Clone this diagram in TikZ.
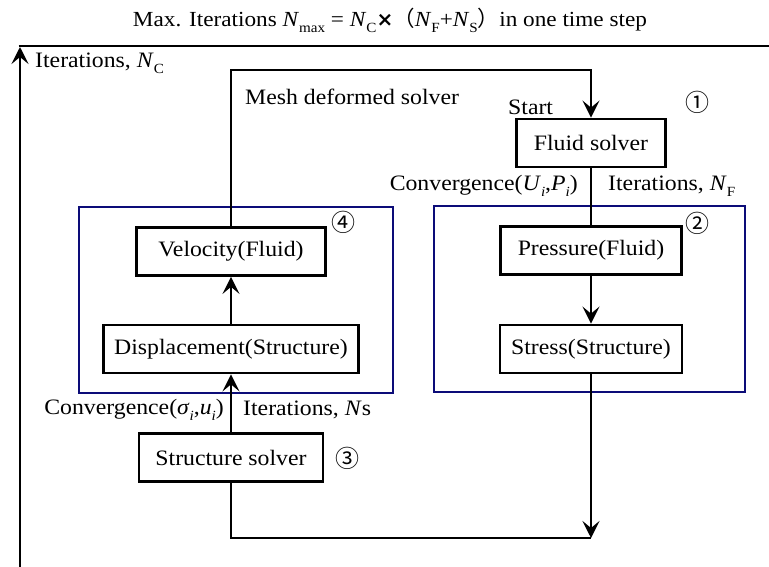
\documentclass[tikz,border=0pt]{standalone}
\usepackage{fontspec}
\setmainfont{Liberation Serif}[FakeStretch=1.08]
\newfontfamily\cjkfont{Noto Sans CJK SC}
\newfontfamily\symfont{DejaVu Sans}
\usetikzlibrary{arrows.meta}
\definecolor{navyframe}{RGB}{12,12,120}
% lowered small index text
\newcommand{\idx}[1]{\raisebox{-0.28em}{\fontsize{14}{14}\selectfont #1}}
\tikzset{
  txt/.style={font=\fontsize{22}{26}\selectfont, inner sep=0pt},
  box/.style={txt, draw, line width=2.8pt, minimum height=48pt},
  frame/.style={draw=navyframe, line width=2.4pt, inner sep=0pt},
  conn/.style={line width=2.8pt},
  arr/.style={-{Stealth[length=17pt,width=17pt,inset=7pt]}},
  num/.style={font=\cjkfont\fontsize{24}{24}\selectfont, inner sep=0pt},
}
\begin{document}
\begin{tikzpicture}[x=1pt,y=-1pt]
\useasboundingbox (0,0) rectangle (769,567);

% title
\node[txt, font=\fontsize{21.5}{24}\selectfont] (title) at (390,20)
  {Max. Iterations \textit{N}\idx{max} = \textit{N}\idx{C}{\symfont\fontsize{20}{20}\selectfont\bfseries ×}{\cjkfont （}\textit{N}\idx{F}+\textit{N}\idx{S}{\cjkfont ）}in one time step};

% solver blocks
\node[box, minimum width=149pt] (fluid) at (591,143) {Fluid solver};
\node[box, minimum width=181pt] (press) at (591,250.5) {Pressure(Fluid)};
\node[box, minimum width=182pt] (stress) at (591,349) {Stress(Structure)};
\node[box, minimum width=189pt] (vel) at (231,251.5) {Velocity(Fluid)};
\node[box, minimum width=255pt] (disp) at (231,349) {Displacement(Structure)};
\node[box, minimum width=184pt] (struct) at (231,457.5) {Structure solver};

% blue group frames
\node[frame, minimum width=314pt, minimum height=186pt] (grpL) at (236,300) {};
\node[frame, minimum width=311pt, minimum height=186pt] (grpR) at (589.5,299) {};

% corner points of the loops
\coordinate (meshL) at (231,70);
\coordinate (meshR) at (591,70);
\coordinate (botL) at (231,538);
\coordinate (botR) at (591,538);
\coordinate (outBot) at (20,567);
\coordinate (outTop) at (20,47);
\coordinate (outCorner) at (18.6,46);
\coordinate (outRight) at (769,46);

% connectors
\draw[conn, arr] (vel.north) -- (meshL) -- (meshR) -- (fluid.north);
\draw[conn] (fluid.south) -- (press.north);
\draw[conn, arr] (press.south) -- (stress.north);
\draw[conn, arr] (stress.south) -- (botR);
\draw[conn] (struct.south) -- (botL) -- (botR);
\draw[conn, arr] (struct.north) -- (disp.south);
\draw[conn, arr] (disp.north) -- (vel.south);
\draw[conn, arr] (outBot) -- (outTop);
\draw[conn] (outCorner) -- (outRight);

% labels
\node[txt, anchor=west] (itC) at (35,63) {Iterations, \textit{N}\idx{C}};
\node[txt, anchor=west] (mesh) at (245,97) {Mesh deformed solver};
\node[txt, anchor=west] (start) at (508,107) {Start};
\node[num] (n1) at (697,102) {①};
\node[txt, anchor=east] (convF) at (578,186) {Convergence(\textit{U}\idx{\textit{i}},\textit{P}\idx{\textit{i}})};
\node[txt, anchor=west] (itF) at (608,186) {Iterations, \textit{N}\idx{F}};
\node[num] (n2) at (697,223) {②};
\node[num] (n4) at (343,222) {④};
\node[txt, anchor=east] (convS) at (224,410) {Convergence(\textit{σ}\idx{\textit{i}},\textit{u}\idx{\textit{i}})};
\node[txt, anchor=west] (itS) at (243,410) {Iterations, \textit{N}s};
\node[num] (n3) at (347,458) {③};
\end{tikzpicture}
\end{document}
